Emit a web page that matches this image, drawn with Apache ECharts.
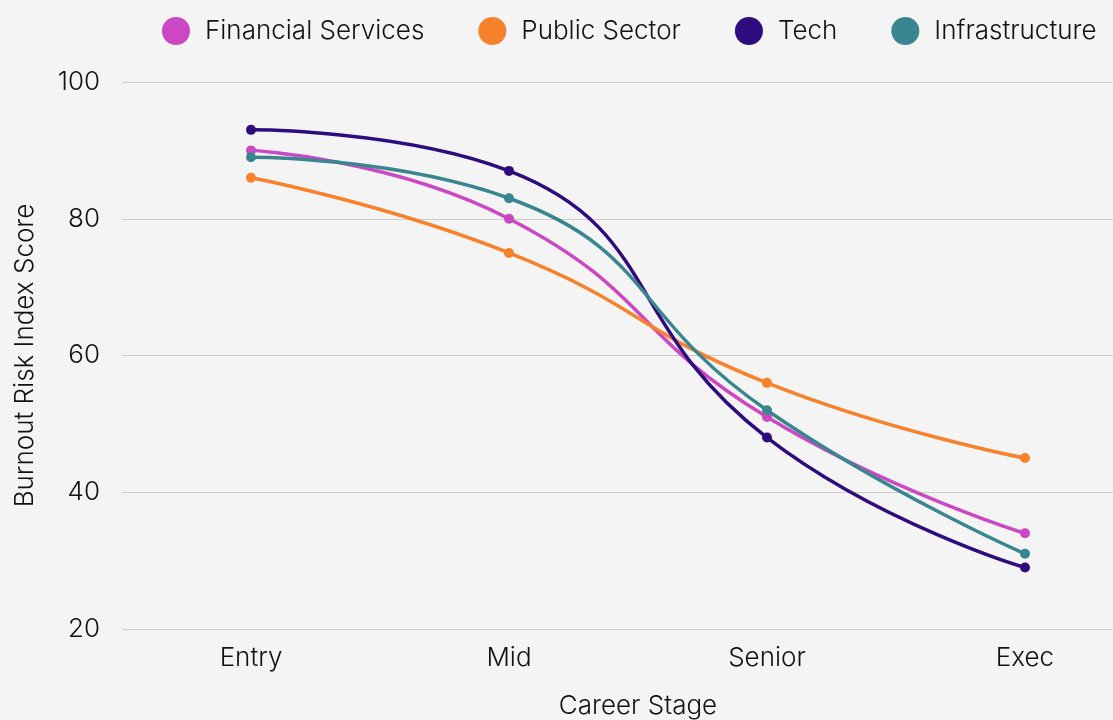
<!DOCTYPE html>
<html>
<head>
<meta charset="utf-8">
<script src="https://cdn.jsdelivr.net/npm/echarts@6/dist/echarts.min.js"></script>
<style>
  html, body { margin: 0; padding: 0; background: #f4f4f4; }
  #chart { width: 1113px; height: 720px; }
</style>
</head>
<body>
<div id="chart"></div>
<script>
// Career stages along the x axis
const stages = ['Entry', 'Mid', 'Senior', 'Exec'];

// Burnout risk index score per sector
const financialServices = [90, 80, 51, 34];
const publicSector = [86, 75, 56, 45];
const tech = [93, 87, 48, 29];
const infrastructure = [89, 83, 52, 31];

const FONT = 'Inter';
const textStyle = { fontFamily: FONT, fontWeight: 300, color: '#111', fontSize: 26 };

function line(name, data, color) {
  return {
    name: name,
    type: 'line',
    data: data,
    smooth: true,
    symbol: 'circle',
    symbolSize: 10,
    lineStyle: { width: 3.5, color: color },
    itemStyle: { color: color }
  };
}

const chart = echarts.init(document.getElementById('chart'));
chart.setOption({
  backgroundColor: '#f4f4f4',
  animation: false,
  textStyle: textStyle,
  legend: {
    top: 12,
    left: 157,
    icon: 'circle',
    itemWidth: 28,
    itemHeight: 28,
    itemGap: 54,
    textStyle: Object.assign({}, textStyle, { padding: [0, 0, 0, 10] })
  },
  // the plot runs past the right edge of the canvas
  grid: { left: 122, width: 1032, top: 82, height: 547, containLabel: false, outerBoundsMode: 'none' },
  xAxis: {
    type: 'category',
    data: stages,
    boundaryGap: true,
    name: 'Career Stage',
    nameLocation: 'middle',
    nameGap: 64,
    nameTextStyle: textStyle,
    axisLine: { show: false },
    axisTick: { show: false },
    axisLabel: Object.assign({ margin: 16 }, textStyle)
  },
  yAxis: {
    type: 'value',
    min: 20,
    max: 100,
    interval: 20,
    name: 'Burnout Risk Index Score',
    nameLocation: 'middle',
    nameGap: 84,
    nameTextStyle: textStyle,
    axisLine: { show: false },
    axisTick: { show: false },
    axisLabel: Object.assign({ margin: 22 }, textStyle),
    splitLine: { lineStyle: { color: '#cccccc', width: 1.2 } }
  },
  series: [
    line('Financial Services', financialServices, '#cc47c3'),
    line('Public Sector', publicSector, '#f8822c'),
    line('Tech', tech, '#2e0c7e'),
    line('Infrastructure', infrastructure, '#3a8690')
  ]
});
</script>
</body>
</html>
